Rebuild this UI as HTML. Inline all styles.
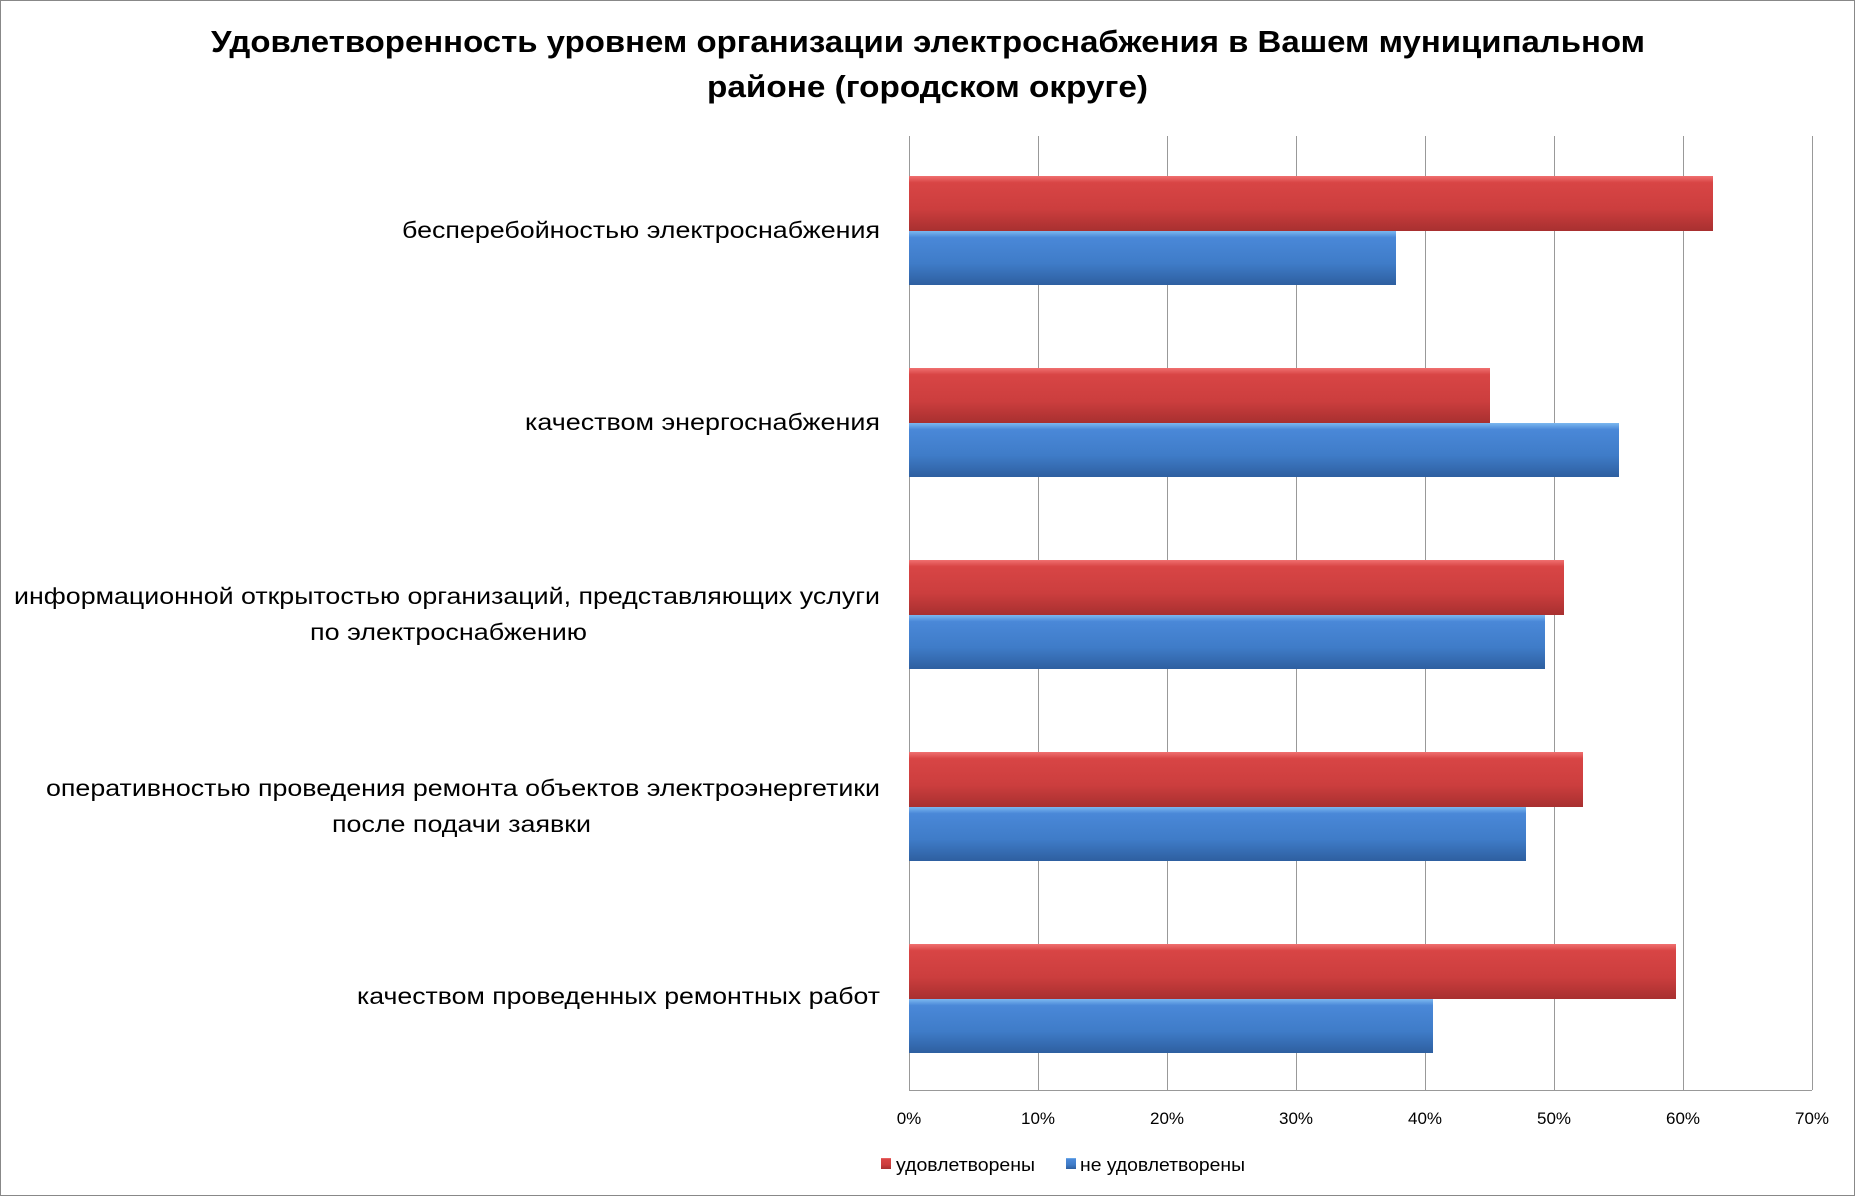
<!DOCTYPE html>
<html><head><meta charset="utf-8"><style>
body{margin:0;background:#fff}
svg text{font-family:"Liberation Sans","DejaVu Sans",sans-serif}
</style></head><body>
<svg width="1855" height="1196" xmlns="http://www.w3.org/2000/svg">
<defs>
<linearGradient id="r" x1="0" y1="0" x2="0" y2="1">
<stop offset="0" stop-color="#f07070"/><stop offset="0.12" stop-color="#d84545"/><stop offset="0.6" stop-color="#cc3e3e"/><stop offset="1" stop-color="#a83030"/></linearGradient>
<linearGradient id="b" x1="0" y1="0" x2="0" y2="1">
<stop offset="0" stop-color="#7cb8f0"/><stop offset="0.12" stop-color="#4a88d8"/><stop offset="0.6" stop-color="#3f7cc8"/><stop offset="1" stop-color="#2e5fa0"/></linearGradient>
</defs>
<rect x="0.5" y="0.5" width="1854" height="1195" fill="#fff" stroke="#888"/>
<text x="211" y="52" font-size="31" font-weight="bold" textLength="1434" lengthAdjust="spacingAndGlyphs">Удовлетворенность уровнем организации электроснабжения в Вашем муниципальном</text>
<text x="707" y="97" font-size="31" font-weight="bold" textLength="441" lengthAdjust="spacingAndGlyphs">районе (городском округе)</text>
<g stroke="#999" stroke-width="1">
<line x1="909.5" y1="136" x2="909.5" y2="1090"/>
<line x1="1038.5" y1="136" x2="1038.5" y2="1090"/>
<line x1="1167.5" y1="136" x2="1167.5" y2="1090"/>
<line x1="1296.5" y1="136" x2="1296.5" y2="1090"/>
<line x1="1425.5" y1="136" x2="1425.5" y2="1090"/>
<line x1="1554.5" y1="136" x2="1554.5" y2="1090"/>
<line x1="1683.5" y1="136" x2="1683.5" y2="1090"/>
<line x1="1812.5" y1="136" x2="1812.5" y2="1090"/>
<line x1="909" y1="1090.5" x2="1812" y2="1090.5"/>
</g>
<g>
<rect x="909" y="176" width="804" height="55" fill="url(#r)"/>
<rect x="909" y="231" width="487" height="54" fill="url(#b)"/>
<rect x="909" y="368" width="581" height="55" fill="url(#r)"/>
<rect x="909" y="423" width="710" height="54" fill="url(#b)"/>
<rect x="909" y="560" width="655" height="55" fill="url(#r)"/>
<rect x="909" y="615" width="636" height="54" fill="url(#b)"/>
<rect x="909" y="752" width="674" height="55" fill="url(#r)"/>
<rect x="909" y="807" width="617" height="54" fill="url(#b)"/>
<rect x="909" y="944" width="767" height="55" fill="url(#r)"/>
<rect x="909" y="999" width="524" height="54" fill="url(#b)"/>
</g>
<g font-size="23" lengthAdjust="spacingAndGlyphs">
<text x="402" y="238" textLength="478" lengthAdjust="spacingAndGlyphs">бесперебойностью  электроснабжения</text>
<text x="525" y="430" textLength="355" lengthAdjust="spacingAndGlyphs">качеством энергоснабжения</text>
<text x="14" y="604" textLength="866" lengthAdjust="spacingAndGlyphs">информационной открытостью организаций, представляющих услуги</text>
<text x="310" y="640" textLength="277" lengthAdjust="spacingAndGlyphs">по электроснабжению</text>
<text x="46" y="796" textLength="834" lengthAdjust="spacingAndGlyphs">оперативностью проведения ремонта объектов электроэнергетики</text>
<text x="332" y="832" textLength="259" lengthAdjust="spacingAndGlyphs">после подачи заявки</text>
<text x="357" y="1004" textLength="523" lengthAdjust="spacingAndGlyphs">качеством проведенных ремонтных работ</text>
</g>
<g font-size="17" text-anchor="middle">
<text x="909" y="1124">0%</text><text x="1038" y="1124">10%</text><text x="1167" y="1124">20%</text><text x="1296" y="1124">30%</text><text x="1425" y="1124">40%</text><text x="1554" y="1124">50%</text><text x="1683" y="1124">60%</text><text x="1812" y="1124">70%</text>
</g>
<rect x="881" y="1158" width="10" height="11" fill="url(#r)"/>
<text x="896" y="1171" font-size="18" textLength="139" lengthAdjust="spacingAndGlyphs">удовлетворены</text>
<rect x="1066" y="1158" width="10" height="11" fill="url(#b)"/>
<text x="1080" y="1171" font-size="18" textLength="165" lengthAdjust="spacingAndGlyphs">не удовлетворены</text>
</svg>
</body></html>
